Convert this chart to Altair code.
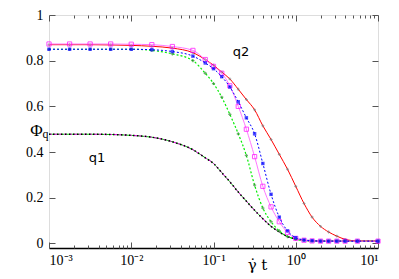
import altair as alt
import pandas as pd

# time axis (gamma-dot t)
t = [0.001, 0.00178, 0.00316, 0.00562, 0.01, 0.0178, 0.0316, 0.0562, 0.0794, 0.1,
     0.126, 0.158, 0.2, 0.251, 0.316, 0.398, 0.501, 0.631, 0.794, 1.0,
     1.26, 1.58, 2.0, 2.51, 3.16, 3.98, 5.62, 10.0]

q2_red = [0.870, 0.870, 0.870, 0.869, 0.867, 0.863, 0.855, 0.835, 0.805, 0.780,
          0.750, 0.720, 0.675, 0.630, 0.585, 0.515, 0.455, 0.390, 0.325, 0.250,
          0.175, 0.115, 0.075, 0.050, 0.032, 0.018, 0.011, 0.010]
q2_magenta = [0.873, 0.873, 0.873, 0.873, 0.872, 0.870, 0.862, 0.845, 0.805, 0.775,
              0.745, 0.690, 0.600, 0.500, 0.380, 0.250, 0.160, 0.095, 0.048, 0.022,
              0.014, 0.011, 0.010, 0.010, 0.010, 0.010, 0.010, 0.010]
q2_blue = [0.850, 0.850, 0.850, 0.850, 0.850, 0.848, 0.840, 0.820, 0.790, 0.765,
           0.730, 0.685, 0.620, 0.550, 0.480, 0.350, 0.215, 0.115, 0.055, 0.025,
           0.015, 0.012, 0.010, 0.010, 0.010, 0.010, 0.010, 0.010]
q2_green = [0.850, 0.850, 0.850, 0.850, 0.850, 0.845, 0.830, 0.800, 0.745, 0.700,
            0.640, 0.565, 0.480, 0.385, 0.255, 0.155, 0.095, 0.055, 0.030, 0.018,
            0.013, 0.011, 0.010, 0.010, 0.010, 0.010, 0.010, 0.010]
q1 = [0.478, 0.478, 0.478, 0.477, 0.473, 0.465, 0.445, 0.410, 0.375, 0.350,
      0.310, 0.270, 0.225, 0.185, 0.145, 0.108, 0.075, 0.050, 0.030, 0.020,
      0.014, 0.011, 0.010, 0.010, 0.010, 0.010, 0.010, 0.010]

x_major = [0.001, 0.01, 0.1, 1, 10]
x_all = [m * d for d in [0.001, 0.01, 0.1, 1] for m in range(1, 10)] + [10]
y_major = [0, 0.2, 0.4, 0.6, 0.8, 1.0]

labels_df = pd.DataFrame({"t": [0.216, 0.00384], "phi": [0.838, 0.374], "label": ["q2", "q1"]})

series = {"q2_red": q2_red, "q2_magenta": q2_magenta, "q2_blue": q2_blue,
          "q2_green": q2_green, "q1": q1}
rows = []
for name, vals in series.items():
    for tv, v in zip(t, vals):
        rows.append({"t": tv, "phi": v, "s": name})
df = pd.DataFrame(rows)

W, H = 329, 233
SERIF = "Liberation Serif"
xs = alt.Scale(type="log", domain=[0.001, 10], nice=False)
ys = alt.Scale(domain=[-0.02, 1.0], nice=False, zero=False)

major_test = "abs(log(datum.value)/LN10 - round(log(datum.value)/LN10)) < 0.001"
tick_cond = {"condition": {"test": major_test, "value": 6}, "value": 3}

base = alt.Chart(df)
INT = "monotone"

# main layer with labelled axes
main = base.transform_filter(alt.datum.s == "q1").mark_line(color="#00dd00", strokeWidth=1, interpolate=INT).encode(
    x=alt.X("t:Q", scale=xs, axis=alt.Axis(
        orient="bottom", values=x_major, ticks=False, grid=False, domain=True,
        domainColor="black", domainWidth=1.5,
        labelExpr="datum.value == 0.001 ? '10⁻³' : datum.value == 0.01 ? '10⁻²' : datum.value == 0.1 ? '10⁻¹' : datum.value == 1 ? '10⁰' : '10¹'",
        labelFont=SERIF, labelFontSize=14, labelPadding=5, labelColor="black",
        title="γ̇ t", titleFont="DejaVu Serif", titleFontSize=15, titleFontWeight="normal",
        titleX=208, titleY=21, titleBaseline="alphabetic", titleAlign="center")),
    y=alt.Y("phi:Q", scale=ys, axis=alt.Axis(
        orient="left", values=y_major, format="~g", ticks=False, grid=False, domain=False,
        labelFont=SERIF, labelFontSize=14, labelPadding=6, labelColor="black",
        title="Φ", titleAngle=0, titleX=-13, titleY=120, titleAlign="center",
        titleBaseline="alphabetic", titleFont=SERIF, titleFontSize=17, titleFontWeight="normal")),
)

# inward ticks at bottom and left edges
ticks_a = base.mark_line(opacity=0).encode(
    x=alt.X("t:Q", scale=xs, axis=alt.Axis(
        orient="top", offset=-H, values=x_all, labels=False, domain=False, grid=False,
        tickSize=tick_cond, tickColor="#555", title=None)),
    y=alt.Y("phi:Q", scale=ys, axis=alt.Axis(
        orient="right", offset=-W, values=y_major, labels=False, domain=False, grid=False,
        tickSize=6, tickColor="#555", title="q", titleAngle=0, titleX=-4, titleY=122,
        titleAlign="center", titleBaseline="alphabetic", titleFont=SERIF, titleFontSize=12,
        titleFontWeight="normal")),
    detail="s:N",
)
# inward ticks at top and right edges
ticks_b = base.mark_line(opacity=0).encode(
    x=alt.X("t:Q", scale=xs, axis=alt.Axis(
        orient="bottom", offset=-H, values=x_all, labels=False, domain=False, grid=False,
        tickSize=tick_cond, tickColor="#555", title=None)),
    y=alt.Y("phi:Q", scale=ys, axis=alt.Axis(
        orient="left", offset=-W, values=y_major, labels=False, domain=False, grid=False,
        tickSize=6, tickColor="#555", title=None)),
    detail="s:N",
)

def enc(chart):
    return chart.encode(x=alt.X("t:Q", scale=xs, axis=None), y=alt.Y("phi:Q", scale=ys, axis=None))

def sel(name):
    return base.transform_filter(alt.datum.s == name)

layers = [
    main,
    enc(sel("q1").mark_line(color="#ff00ff", strokeWidth=1, strokeDash=[3, 2], interpolate=INT)),
    enc(sel("q1").mark_line(color="black", strokeWidth=1.5, strokeDash=[1.5, 2.5], interpolate=INT)),
    enc(sel("q2_green").mark_line(color="#00ee00", strokeWidth=1.2, strokeDash=[2, 2], interpolate=INT)),
    enc(sel("q2_green").mark_point(shape="cross", size=10, color="#2e8b2e", filled=True)),
    enc(sel("q2_red").mark_line(color="#ff0000", strokeWidth=1, interpolate=INT)),
    enc(sel("q2_red").mark_point(shape="cross", size=8, color="#777", filled=True)),
    enc(sel("q2_magenta").mark_line(color="#ff77ff", strokeWidth=1, interpolate=INT)),
    enc(sel("q2_magenta").mark_point(shape="square", size=18, color="#ff00ff", filled=False, strokeWidth=1)),
    enc(sel("q2_blue").mark_line(color="#0000ff", strokeWidth=1, strokeDash=[2, 2], interpolate=INT)),
    enc(sel("q2_blue").mark_point(shape="square", size=12, color="#0000ff", filled=True)),
    enc(alt.Chart(labels_df).mark_text(font="DejaVu Sans", fontSize=13, color="black")).encode(text="label:N"),
    ticks_a,
    ticks_b,
]

chart = alt.layer(*layers).resolve_axis(x="independent", y="independent").properties(
    width=W, height=H,
    autosize=alt.AutoSizeParams(type="none"),
    padding={"left": 41, "top": 7, "right": 13, "bottom": 30},
).configure_view(stroke="#808080", strokeWidth=1).configure(background="white")

chart.save("out.html", embed_options={"renderer": "svg", "actions": False})
